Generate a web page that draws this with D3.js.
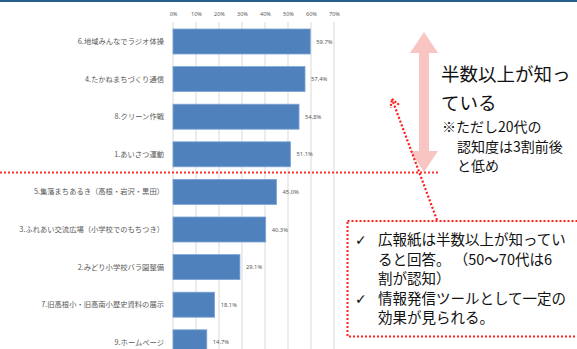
<!DOCTYPE html>
<html>
<head>
<meta charset="utf-8">
<script src="https://cdn.jsdelivr.net/npm/d3@7"></script>
<style>
  html, body { margin: 0; padding: 0; background: #fff; }
  svg { display: block; }
  text { font-family: "Noto Sans CJK JP", "Noto Sans", sans-serif; }
</style>
</head>
<body>
<svg id="chart" width="577" height="349"></svg>
<script>
// Awareness of each activity (share of respondents who know it)
const categories = [
  "6.地域みんなでラジオ体操",
  "4.たかねまちづくり通信",
  "8.クリーン作戦",
  "1.あいさつ運動",
  "5.集落まちあるき（高根・岩沢・黒田）",
  "3.ふれあい交流広場（小学校でのもちつき）",
  "2.みどり小学校バラ園整備",
  "7.旧高根小・旧高南小歴史資料の展示",
  "9.ホームページ"
];
const values = [59.7, 57.4, 54.8, 51.1, 45.0, 40.3, 29.1, 18.1, 14.7];
const ticks = [0, 10, 20, 30, 40, 50, 60, 70];

const noteMain = ["半数以上が知っ", "ている"];
const noteSub = ["※ただし20代の", "認知度は3割前後", "と低め"];
const boxLines = [
  { check: true,  text: "広報紙は半数以上が知ってい" },
  { check: false, text: "ると回答。 （50～70代は6" },
  { check: false, text: "割が認知）" },
  { check: true,  text: "情報発信ツールとして一定の" },
  { check: false, text: "効果が見られる。" }
];

const svg = d3.select("#chart");

// header rule
svg.append("rect").attr("x", 0).attr("y", 0).attr("width", 577).attr("height", 2)
  .attr("fill", "#26608f");

const x = d3.scaleLinear().domain([0, 70]).range([173, 334]);
const y = d3.scaleBand().domain(categories).range([22.7, 361.1])
  .paddingInner(0.335).paddingOuter(0.1675);

// gridlines
svg.append("g").selectAll("line").data(ticks).join("line")
  .attr("x1", d => x(d)).attr("x2", d => x(d))
  .attr("y1", 22).attr("y2", 349)
  .attr("stroke", "#d9d9d9").attr("stroke-width", 1);

// top axis labels
const xAxis = d3.axisTop(x).tickValues(ticks).tickSize(0).tickFormat(d => d + "%");
const gx = svg.append("g").attr("transform", "translate(0,19)").call(xAxis);
gx.select(".domain").remove();
gx.selectAll("text").attr("font-size", 5.5).attr("fill", "#595959")
  .style("font-family", "'Noto Sans', sans-serif");

// bars
svg.append("g").selectAll("rect").data(values).join("rect")
  .attr("x", x(0))
  .attr("y", (d, i) => y(categories[i]))
  .attr("width", d => x(d) - x(0))
  .attr("height", y.bandwidth())
  .attr("fill", "#4f81bd")
  .attr("stroke", "#7fa6d6").attr("stroke-width", 0.8);

// value labels
svg.append("g").selectAll("text").data(values).join("text")
  .attr("x", d => x(d) + 6)
  .attr("y", (d, i) => y(categories[i]) + y.bandwidth() / 2)
  .attr("dy", "0.35em")
  .attr("font-size", 5.8).attr("fill", "#595959")
  .style("font-family", "'Noto Sans', sans-serif")
  .text(d => d.toFixed(1) + "%");

// category labels
svg.append("g").selectAll("text").data(categories).join("text")
  .attr("x", 164)
  .attr("y", d => y(d) + y.bandwidth() / 2)
  .attr("dy", "0.35em")
  .attr("text-anchor", "end")
  .attr("font-size", 7.3).attr("fill", "#595959")
  .text(d => d);

// half-way divider
svg.append("line").attr("x1", 0).attr("x2", 440).attr("y1", 172.5).attr("y2", 172.5)
  .attr("stroke", "#ff3030").attr("stroke-width", 2).attr("stroke-dasharray", "2,2");

// pink double-headed arrow
const ax = 424;
svg.append("path")
  .attr("d", `M${ax},32 L${ax + 14},53 L${ax + 5},53 L${ax + 5},151 L${ax + 14},151 L${ax},172 L${ax - 14},151 L${ax - 5},151 L${ax - 5},53 L${ax - 14},53 Z`)
  .attr("fill", "#f8c5c3");

// annotation next to the arrow
svg.append("g").selectAll("text").data(noteMain).join("text")
  .attr("x", 441).attr("y", (d, i) => 81 + i * 29)
  .attr("font-size", 18.5).attr("fill", "#111")
  .text(d => d);
svg.append("g").selectAll("text").data(noteSub).join("text")
  .attr("x", (d, i) => i === 0 ? 442 : 457).attr("y", (d, i) => 132 + i * 19.5)
  .attr("font-size", 14).attr("fill", "#111")
  .text(d => d);

// dotted callout box
svg.append("rect").attr("x", 347.5).attr("y", 221).attr("width", 240).attr("height", 115.5)
  .attr("fill", "#fff").attr("stroke", "#ff2020").attr("stroke-width", 2)
  .attr("stroke-dasharray", "2,2");

// dotted pointer from box to chart
const tip = [392, 99], tail = [437, 220];
svg.append("line").attr("x1", tail[0]).attr("y1", tail[1]).attr("x2", tip[0]).attr("y2", tip[1])
  .attr("stroke", "#ff2020").attr("stroke-width", 2.2).attr("stroke-dasharray", "2,2");
const ang = Math.atan2(tail[1] - tip[1], tail[0] - tip[0]);
const hl = 9, spread = Math.PI / 6;
svg.append("path")
  .attr("d", `M${tip[0] + hl * Math.cos(ang - spread)},${tip[1] + hl * Math.sin(ang - spread)} L${tip[0]},${tip[1]} L${tip[0] + hl * Math.cos(ang + spread)},${tip[1] + hl * Math.sin(ang + spread)}`)
  .attr("fill", "none").attr("stroke", "#ff2020").attr("stroke-width", 2.2)
  .attr("stroke-dasharray", "2,1.5");

// callout text
const bl = svg.append("g");
boxLines.forEach((l, i) => {
  const yy = 245 + i * 19.5;
  if (l.check) {
    bl.append("text").attr("x", 355).attr("y", yy).attr("font-size", 14)
      .attr("font-weight", "bold")
      .attr("fill", "#111").style("font-family", "'DejaVu Sans', sans-serif").text("✓");
  }
  bl.append("text").attr("x", 378).attr("y", yy).attr("font-size", 14.5)
    .attr("fill", "#111").text(l.text);
});
</script>
</body>
</html>
